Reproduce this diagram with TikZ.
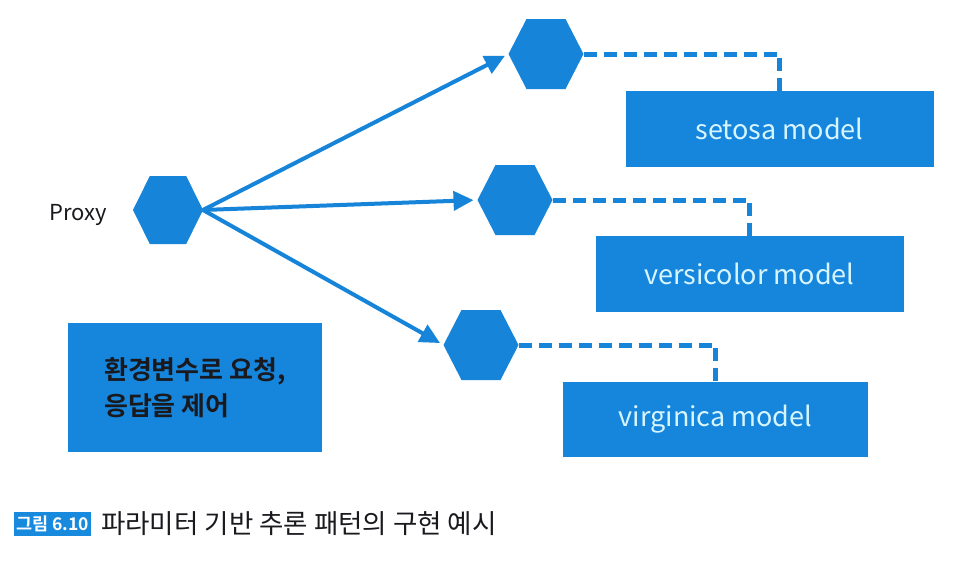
\documentclass[tikz,border=0pt]{standalone}
\usepackage{fontspec}
\setmainfont{Noto Sans CJK KR}[BoldFont={Noto Sans CJK KR Bold}]
\usetikzlibrary{arrows.meta,calc}
\definecolor{hexblue}{RGB}{22,132,216}
\definecolor{boxblue}{RGB}{22,134,220}
\definecolor{capblue}{RGB}{24,138,222}
\definecolor{modeltext}{RGB}{215,245,255}
\definecolor{darktext}{RGB}{25,25,30}
\tikzset{
  hexnode/.style={minimum width=75pt, minimum height=70pt, inner sep=0pt, outer sep=0pt},
  modelbox/.style={fill=boxblue, minimum width=308pt, minimum height=76pt, inner sep=0pt,
    text=modeltext, font=\fontsize{27}{31}\selectfont},
  flow/.style={draw=hexblue, line width=4pt, -{Triangle[length=20pt,width=19pt]}, shorten >=4pt},
  link/.style={draw=hexblue, line width=5pt, dash pattern=on 13pt off 7pt},
}
\newcommand{\hexshape}[1]{\fill[hexblue] (#1.west) -- ($(#1.north west)!.24!(#1.north east)$) -- ($(#1.north west)!.76!(#1.north east)$) -- (#1.east) -- ($(#1.south west)!.76!(#1.south east)$) -- ($(#1.south west)!.24!(#1.south east)$) -- cycle;}
\begin{document}
\begin{tikzpicture}[x=1pt,y=-1pt]
\useasboundingbox (0,0) rectangle (962,562);
\fill[white] (0,0) rectangle (962,562);

% hexagons
\node[hexnode, minimum width=70pt, minimum height=68pt] (h0) at (168,210) {};
\node[hexnode] (h1) at (546,54) {};
\node[hexnode] (h2) at (515,200) {};
\node[hexnode] (h3) at (481,345) {};
\hexshape{h0}
\hexshape{h1}
\hexshape{h2}
\hexshape{h3}

% proxy label
\node[font=\fontsize{22}{26}\selectfont, text=darktext, anchor=east, inner sep=0pt] (proxy) at (107,215) {Proxy};

% model boxes
\node[modelbox] (m1) at (779.5,129) {setosa model};
\node[modelbox] (m2) at (749.5,274) {versicolor model};
\node[modelbox, minimum width=305pt, minimum height=75pt] (m3) at (715.5,419.5) {virginica model};

% env box
\node[fill=boxblue, minimum width=254pt, minimum height=129pt, align=left, text=darktext,
      font=\bfseries\fontsize{26}{36}\selectfont] (env) at (195,387.5) {환경변수로 요청,\\응답을 제어};

% arrows
\draw[flow] (h0.east) -- (h1.west);
\draw[flow] (h0.east) -- (h2.west);
\draw[flow] (h0.east) -- (h3.west);

% dashed links
\draw[link] (h1.east) -| (m1.north);
\draw[link] (h2.east) -| (m2.north);
\draw[link] (h3.east) -| (m3.north);

% caption
\node[fill=capblue, text=white, font=\bfseries\fontsize{17.5}{21}\selectfont, inner xsep=2pt,
      inner ysep=0pt, minimum height=24pt] (lbl) at (52.5,523.5) {그림 6.10};
\node[anchor=west, inner sep=0pt, text=darktext, font=\fontsize{26.5}{30}\selectfont] (cap) at (101,524) {파라미터 기반 추론 패턴의 구현 예시};
\end{tikzpicture}
\end{document}
